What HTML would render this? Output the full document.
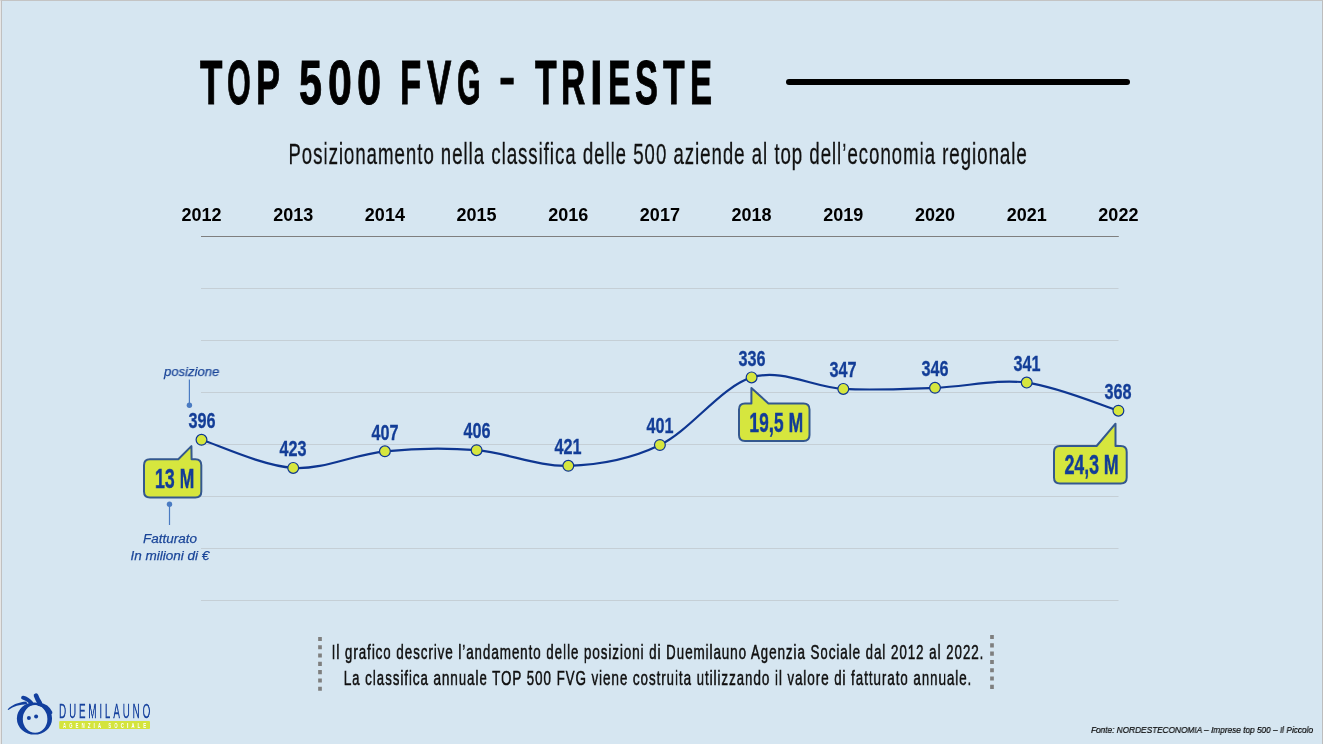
<!DOCTYPE html>
<html><head><meta charset="utf-8">
<style>
html,body{margin:0;padding:0}
body{width:1323px;height:744px;position:relative;overflow:hidden;background:#e8e8e8;font-family:"Liberation Sans",Arial,sans-serif}
#slide{position:absolute;left:2px;top:1px;width:1320px;height:743px;background:#d6e6f1}
#edge{position:absolute;left:0;top:0;width:1323px;height:744px;box-sizing:border-box;border-top:1px solid #c4c4c4;border-left:1px solid #e6e6e6;border-right:1px solid #bdbdbd}
#edge2{position:absolute;left:1px;top:1px;width:1px;height:743px;background:#c0c0c0}
#title span{position:absolute;top:49.6px;font-weight:bold;font-size:63.7px;line-height:63.7px;color:#000;-webkit-text-stroke:1.0px #000;transform-origin:0 0;white-space:nowrap}
.t{position:absolute;white-space:nowrap;transform-origin:0 0;line-height:1}
svg{position:absolute;left:0;top:0}
body>div{will-change:transform}
#title,#years,#nums{position:absolute;left:0;top:0;width:1323px;height:744px}
#years .c{position:absolute;top:205px;width:100px;text-align:center;font-weight:bold;font-size:18px;line-height:20px;color:#000}
#nums .n{position:absolute;width:100px;text-align:center;font-weight:bold;font-size:22.5px;line-height:20px;color:#133d97;transform:scaleX(0.72);transform-origin:50% 0;-webkit-text-stroke:0.3px #133d97}
.cb{position:absolute;width:58px;text-align:center;font-weight:bold;font-size:27px;line-height:26px;color:#123c98;transform:scaleX(0.655);-webkit-text-stroke:0.4px #123c98;transform-origin:50% 0;white-space:nowrap}
.it{font-style:italic;font-size:13.5px;color:#1a4598;-webkit-text-stroke:0.25px #1a4598}
</style></head>
<body>
<div id="slide"></div>
<div id="edge"></div><div id="edge2"></div>

<svg width="1323" height="744" viewBox="0 0 1323 744">
  <!-- title bar -->
  <line x1="789" y1="82" x2="1127" y2="82" stroke="#000" stroke-width="6" stroke-linecap="round"/>
  <!-- gridlines -->
  <g stroke="#c5cfd6" stroke-width="1">
    <line x1="201" y1="288.5" x2="1118.5" y2="288.5"/>
    <line x1="201" y1="340.5" x2="1118.5" y2="340.5"/>
    <line x1="201" y1="392.5" x2="1118.5" y2="392.5"/>
    <line x1="201" y1="444.5" x2="1118.5" y2="444.5"/>
    <line x1="201" y1="496.5" x2="1118.5" y2="496.5"/>
    <line x1="201" y1="548.5" x2="1118.5" y2="548.5"/>
    <line x1="201" y1="600.5" x2="1118.5" y2="600.5"/>
  </g>
  <line x1="201" y1="236.5" x2="1118.8" y2="236.5" stroke="#7f7f7f" stroke-width="1.1"/>
  <!-- data line -->
  <path d="M201.5,439.8 C216.8,444.5 262.6,466.0 293.2,467.9 C323.8,469.8 354.3,454.2 384.9,451.3 C415.5,448.3 446.0,447.8 476.6,450.2 C507.2,452.7 537.8,466.7 568.3,465.8 C598.8,465.0 629.3,459.8 659.9,445.0 C690.5,430.3 721.0,386.8 751.6,377.4 C782.2,368.1 812.7,387.1 843.3,388.9 C873.9,390.6 904.4,388.9 935.0,387.8 C965.6,386.8 996.1,378.8 1026.7,382.6 C1057.3,386.5 1103.1,406.0 1118.4,410.7" fill="none" stroke="#0e3691" stroke-width="2.2"/>
  <!-- callouts -->
  <g fill="#d6e63e" stroke="#34588f" stroke-width="2" stroke-linejoin="round">
    <path d="M150,459.2 L178.3,459.2 L191.4,446.1 L191.6,459.2 L195.3,459.2 Q201.3,459.2 201.3,465.2 L201.3,491.5 Q201.3,497.5 195.3,497.5 L150,497.5 Q144,497.5 144,491.5 L144,465.2 Q144,459.2 150,459.2 Z"/>
    <path d="M745,403.4 L751.4,403.4 L751.4,388 L768.4,403.4 L803.5,403.4 Q809.5,403.4 809.5,409.4 L809.5,435 Q809.5,441 803.5,441 L745,441 Q739,441 739,435 L739,409.4 Q739,403.4 745,403.4 Z"/>
    <path d="M1060,446 L1096.6,446 L1115.5,423.7 L1115.5,446 L1120.7,446 Q1126.7,446 1126.7,452 L1126.7,477.5 Q1126.7,483.5 1120.7,483.5 L1060,483.5 Q1054,483.5 1054,477.5 L1054,452 Q1054,446 1060,446 Z"/>
  </g>
  <!-- markers -->
  <g fill="#d6e63e" stroke="#0e3691" stroke-width="1.2">
    <circle cx="201.5" cy="439.8" r="5.4"/>
    <circle cx="293.2" cy="467.9" r="5.4"/>
    <circle cx="384.9" cy="451.3" r="5.4"/>
    <circle cx="476.6" cy="450.2" r="5.4"/>
    <circle cx="568.3" cy="465.8" r="5.4"/>
    <circle cx="659.9" cy="445.0" r="5.4"/>
    <circle cx="751.6" cy="377.4" r="5.4"/>
    <circle cx="843.3" cy="388.9" r="5.4"/>
    <circle cx="935.0" cy="387.8" r="5.4"/>
    <circle cx="1026.7" cy="382.6" r="5.4"/>
    <circle cx="1118.4" cy="410.7" r="5.4"/>
  </g>
  <!-- connectors -->
  <g stroke="#4a7bc2" stroke-width="1.2" fill="#4a7bc2">
    <line x1="189.4" y1="379.5" x2="189.4" y2="405"/>
    <circle cx="189.4" cy="405.2" r="2.7" stroke="none"/>
    <line x1="169.5" y1="504" x2="169.5" y2="525"/>
    <circle cx="169.5" cy="504.3" r="2.7" stroke="none"/>
  </g>
  <!-- dotted text box borders -->
  <g stroke="#7f7f7f" stroke-width="3.7" stroke-dasharray="4.1 4.2">
    <line x1="320" y1="636.9" x2="320" y2="691"/>
    <line x1="992" y1="635" x2="992" y2="689"/>
  </g>
</svg>

<div id="title"><span style="left:199.68px;transform:scaleX(0.5765)">T</span><span style="left:227.09px;transform:scaleX(0.4794)">O</span><span style="left:255.77px;transform:scaleX(0.5668)">P</span> <span style="left:298.95px;transform:scaleX(0.6484)">5</span><span style="left:327.94px;transform:scaleX(0.6742)">0</span><span style="left:357.13px;transform:scaleX(0.6806)">0</span> <span style="left:400.45px;transform:scaleX(0.5463)">F</span><span style="left:426.64px;transform:scaleX(0.5725)">V</span><span style="left:456.59px;transform:scaleX(0.4774)">G</span> <span style="left:499.28px;top:53.43px;transform:scale(0.7628,0.7568)">-</span> <span style="left:534.78px;transform:scaleX(0.5557)">T</span><span style="left:561.42px;transform:scaleX(0.5261)">R</span><span style="left:590.30px;transform:scaleX(0.7174)">I</span><span style="left:607.51px;transform:scaleX(0.5281)">E</span><span style="left:635.28px;transform:scaleX(0.5413)">S</span><span style="left:662.98px;transform:scaleX(0.5557)">T</span><span style="left:689.94px;transform:scaleX(0.5199)">E</span></div>
<div class="t" id="sub" style="left:-42px;top:139.75px;width:1400px;text-align:center;font-size:29px;letter-spacing:1.5px;color:#111;transform:scaleX(0.6437);-webkit-text-stroke:0.3px #111;transform-origin:50% 0">Posizionamento nella classifica delle 500 aziende al top dell’economia regionale</div>

<div id="years">
<div class="c" style="left:151.5px">2012</div>
<div class="c" style="left:243.2px">2013</div>
<div class="c" style="left:334.9px">2014</div>
<div class="c" style="left:426.6px">2015</div>
<div class="c" style="left:518.3px">2016</div>
<div class="c" style="left:609.9px">2017</div>
<div class="c" style="left:701.6px">2018</div>
<div class="c" style="left:793.3px">2019</div>
<div class="c" style="left:885.0px">2020</div>
<div class="c" style="left:976.7px">2021</div>
<div class="c" style="left:1068.4px">2022</div>
</div>
<div id="nums">
<div class="n" style="left:151.5px;top:411.0px">396</div>
<div class="n" style="left:243.2px;top:439.1px">423</div>
<div class="n" style="left:334.9px;top:422.5px">407</div>
<div class="n" style="left:426.6px;top:421.4px">406</div>
<div class="n" style="left:518.3px;top:437.0px">421</div>
<div class="n" style="left:609.9px;top:416.2px">401</div>
<div class="n" style="left:701.6px;top:348.6px">336</div>
<div class="n" style="left:793.3px;top:360.1px">347</div>
<div class="n" style="left:885.0px;top:359.0px">346</div>
<div class="n" style="left:976.7px;top:353.8px">341</div>
<div class="n" style="left:1068.4px;top:381.9px">368</div>
</div>
<div class="cb" style="left:145px;top:466px">13 M</div>
<div class="cb" style="left:737px;top:410px;width:71px">19,5 M</div>
<div class="cb" style="left:1051.5px;top:452px;width:73px">24,3 M</div>
<div class="t it" style="left:164px;top:365px;transform:scaleX(0.97)">posizione</div>
<div class="t it" style="left:120px;top:530px;width:100px;text-align:center;line-height:17px">Fatturato<br>In milioni di €</div>
<div class="t" id="note" style="left:-42px;top:638.7px;width:1400px;text-align:center;font-size:21px;line-height:26.2px;letter-spacing:1.5px;color:#111;transform:scaleX(0.636);-webkit-text-stroke:0.55px #111;transform-origin:50% 0">Il grafico descrive l’andamento delle posizioni di Duemilauno Agenzia Sociale dal 2012 al 2022.<br>La classifica annuale TOP 500 FVG viene costruita utilizzando il valore di fatturato annuale.</div>
<div class="t" id="fonte" style="left:1090.5px;top:725.3px;font-size:9.5px;font-style:italic;color:#000;transform:scaleX(0.87);-webkit-text-stroke:0.2px #000">Fonte: NORDESTECONOMIA – Imprese top 500 – Il Piccolo</div>


<svg width="160" height="50" viewBox="0 0 160 50" style="left:0;top:690px">
  <path fill="#123f9e" fill-rule="evenodd" d="M16.85,28.5 A17.6,16.1 0 1 0 52.05,28.5 A17.6,16.1 0 1 0 16.85,28.5 Z M22.8,28.9 A12.3,13.8 0 1 0 47.4,28.9 A12.3,13.8 0 1 0 22.8,28.9 Z"/>
  <path fill="#123f9e" d="M7.6,19.4 C11.5,15.2 18,12.3 26.5,11.6 L27.2,14.2 C19.5,14.3 13.5,16.3 8.4,19.9 Z"/>
  <g fill="none" stroke="#123f9e" stroke-linecap="round">
    <path d="M23,7.6 C26,8.2 29,10 31.5,13.2" stroke-width="3.8"/>
    <path d="M36,5.6 C37,8.5 38.2,10.8 40,13.4" stroke-width="4.6"/>
    <path d="M39,14.2 Q47.5,15.5 50.6,22.5" stroke-width="3.6"/>
  </g>
  <g fill="#123f9e">
    <circle cx="28.9" cy="27.9" r="2"/>
    <circle cx="36.1" cy="26.6" r="2"/>
  </g>
  <rect x="59.2" y="31.1" width="90.8" height="7.9" rx="1" fill="#d4e43d"/>
</svg>
<div class="t" id="logo1" style="left:59px;top:701px;font-size:20.3px;color:#17429e;letter-spacing:5.75px;transform:scaleX(0.488);-webkit-text-stroke:0.3px #17429e">DUEMILAUNO</div>
<div class="t" id="logo2" style="left:63px;top:722px;font-size:7px;font-weight:bold;color:#ffffff;letter-spacing:5.3px;transform:scaleX(0.6)">AGENZIA  SOCIALE</div>
</body></html>
